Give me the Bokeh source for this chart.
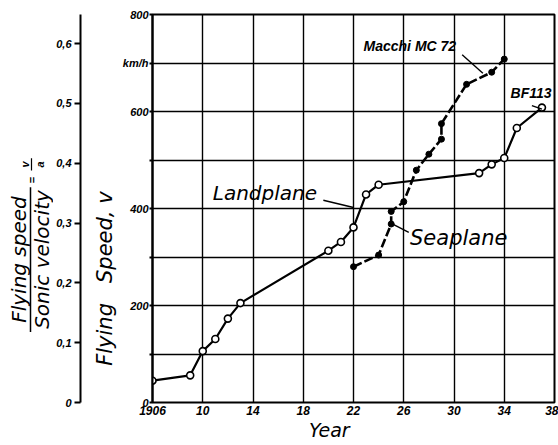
from bokeh.plotting import figure
from bokeh.layouts import row
from bokeh.models import Range1d, FixedTicker, Label
from bokeh.core.properties import value
from bokeh.embed import file_html
from bokeh.resources import INLINE
import math

# ---- data ----
land_years = [1906, 1909, 1910, 1911, 1912, 1913, 1920, 1921, 1922, 1923, 1924, 1932, 1933, 1934, 1935, 1937]
land_speed = [45, 56, 106, 131, 173, 205, 313, 331, 361, 429, 449, 473, 491, 504, 566, 608]

sea_years = [1922, 1924, 1925, 1925, 1926, 1927, 1928, 1929, 1929, 1931, 1933, 1934]
sea_speed = [280, 304, 368, 394, 414, 479, 512, 543, 575, 656, 681, 708]

x_ticks = [1906, 1910, 1914, 1918, 1922, 1926, 1930, 1934, 1938]
x_tick_labels = ["1906", "10", "14", "18", "22", "26", "30", "34", "38"]
y_ticks = [0, 100, 200, 300, 400, 500, 600, 700, 800]
y_tick_labels = ["0", "", "200", "", "400", "", "600", "km/h", "800"]
mach_ticks = [0, 0.1, 0.2, 0.3, 0.4, 0.5, 0.6]
mach_tick_labels = ["0", "0,1", "0,2", "0,3", "0,4", "0,5", "0,6"]

# annotation leader lines (x0, y0, x1, y1) in data units
land_leader = [1919.6, 417, 1922.0, 402]
sea_leader = [1925.2, 367, 1926.4, 351]
macchi_leader = [1930.65, 717, 1932.3, 679]
bf_leader = [1936.2, 612, 1937.0, 605]

TICK_FONT = "Liberation Sans"
TEXT_FONT = "DejaVu Sans"
NB = "\u00a0"

# ---- strip with the Mach-axis title (pixel coordinates, y upward) ----
H = 445
pt = figure(width=53, height=H, x_range=Range1d(0, 53), y_range=Range1d(0, H),
            toolbar_location=None, output_backend="svg", min_border=0,
            x_axis_location=None, y_axis_location=None)
pt.outline_line_color = None
pt.grid.visible = False
pt.border_fill_color = "white"
pt.text(x=[18, 41], y=[H - 281, H - 281], text=["Flying speed", "Sonic velocity"],
        angle=math.pi / 2, text_align="center", text_baseline="middle",
        text_font=value(TEXT_FONT), text_font_style="italic", text_font_size="20px",
        text_color="black")
pt.segment(x0=[30], y0=[H - 364], x1=[30], y1=[H - 198], line_color="black", line_width=1.5)
# "= v/a"
pt.text(x=[24, 39], y=[H - 172, H - 172], text=["v", "a"], angle=math.pi / 2,
        text_align="center", text_baseline="middle",
        text_font=value(TICK_FONT), text_font_style="bold italic", text_font_size="11px",
        text_color="black")
pt.segment(x0=[31], y0=[H - 179], x1=[31], y1=[H - 165], line_color="black", line_width=1.2)
pt.text(x=[31], y=[H - 190], text=["="], angle=math.pi / 2,
        text_align="center", text_baseline="middle",
        text_font=value(TICK_FONT), text_font_style="bold", text_font_size="11px",
        text_color="black")

# ---- Mach-number axis ----
pa = figure(width=29, height=H, x_range=Range1d(0, 2), y_range=Range1d(0, 0.6485),
            toolbar_location=None, output_backend="svg",
            min_border_left=27, min_border_right=0, min_border_top=14, min_border_bottom=43,
            x_axis_location=None, y_axis_location="left")
pa.outline_line_color = None
pa.grid.visible = False
pa.border_fill_color = "white"
ya = pa.yaxis[0]
ya.ticker = FixedTicker(ticks=mach_ticks)
ya.major_label_overrides = {t: l for t, l in zip(mach_ticks, mach_tick_labels)}
ya.minor_tick_line_color = None
ya.major_tick_out = 6
ya.major_tick_in = 0
ya.major_tick_line_width = 2
ya.axis_line_width = 2
ya.major_label_standoff = 3
ya.major_label_text_font = TICK_FONT
ya.major_label_text_font_style = "bold italic"
ya.major_label_text_font_size = "11px"
ya.major_label_text_color = "black"

# ---- main figure ----
p = figure(width=476, height=H, x_range=Range1d(1906, 1938), y_range=Range1d(0, 800),
           toolbar_location=None, output_backend="svg",
           min_border_left=70, min_border_right=4, min_border_top=14, min_border_bottom=43)
p.background_fill_color = "white"
p.border_fill_color = "white"
p.outline_line_color = "black"
p.outline_line_width = 2

xa = p.xaxis[0]
xa.ticker = FixedTicker(ticks=x_ticks)
xa.major_label_overrides = {t: l for t, l in zip(x_ticks, x_tick_labels)}
xa.axis_line_color = None
xa.major_tick_line_color = None
xa.major_tick_out = 0
xa.major_tick_in = 0
xa.minor_tick_line_color = None
xa.minor_tick_out = 0
xa.major_label_standoff = 3
xa.major_label_text_font = TICK_FONT
xa.major_label_text_font_style = "bold italic"
xa.major_label_text_font_size = "12px"
xa.major_label_text_color = "black"
xa.axis_label = "Year" + NB * 8
xa.axis_label_standoff = 1
xa.axis_label_text_font = TEXT_FONT
xa.axis_label_text_font_style = "italic"
xa.axis_label_text_font_size = "19px"
xa.axis_label_text_color = "black"

yb = p.yaxis[0]
yb.ticker = FixedTicker(ticks=y_ticks)
yb.major_label_overrides = {t: l for t, l in zip(y_ticks, y_tick_labels)}
yb.axis_line_width = 2
yb.major_tick_out = 3
yb.major_tick_in = 0
yb.major_tick_line_width = 2
yb.minor_tick_line_color = None
yb.major_label_standoff = 1
yb.major_label_text_font = TICK_FONT
yb.major_label_text_font_style = "bold italic"
yb.major_label_text_font_size = "11px"
yb.major_label_text_color = "black"
yb.axis_label = "Flying" + NB * 3 + "Speed," + NB + "v" + NB * 21
yb.axis_label_standoff = 3
yb.axis_label_text_font = TEXT_FONT
yb.axis_label_text_font_style = "italic"
yb.axis_label_text_font_size = "21px"
yb.axis_label_text_color = "black"

p.xgrid.grid_line_color = "black"
p.xgrid.grid_line_width = 1.4
p.ygrid.grid_line_color = "black"
p.ygrid.grid_line_width = 1.4
p.xgrid.ticker = FixedTicker(ticks=x_ticks)
p.ygrid.ticker = FixedTicker(ticks=y_ticks)

# series
p.line(sea_years, sea_speed, line_color="black", line_width=2.6, line_dash="9 3")
p.scatter(sea_years, sea_speed, size=6, fill_color="black", line_color="black")
p.line(land_years, land_speed, line_color="black", line_width=2.2)
p.scatter(land_years, land_speed, size=7, fill_color="white", line_color="black", line_width=1.6)

# leaders
for ld in [land_leader, sea_leader, macchi_leader, bf_leader]:
    p.segment(x0=[ld[0]], y0=[ld[1]], x1=[ld[2]], y1=[ld[3]], line_color="black", line_width=1.4)

def lab(x, y, text, font, style, size, align="left"):
    p.add_layout(Label(x=x, y=y, text=text, text_align=align,
                       text_baseline="middle", text_font=font, text_font_style=style,
                       text_font_size=size, text_color="black"))

lab(1910.8, 431, "Landplane", TEXT_FONT, "italic", "20px")
lab(1926.5, 340, "Seaplane", TEXT_FONT, "italic", "21px")
lab(1922.8, 735, "Macchi MC 72", TICK_FONT, "bold italic", "14px")
lab(1934.5, 638, "BF113", TICK_FONT, "bold italic", "14px")

layout = row(pt, pa, p, spacing=0)
open("out.html", "w").write(file_html(layout, INLINE))
